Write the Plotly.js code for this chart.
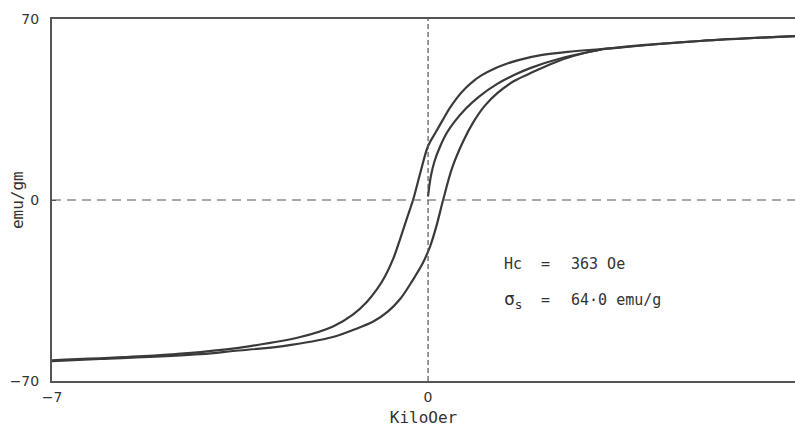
<!DOCTYPE html>
<html>
<head>
<meta charset="utf-8">
<script src="https://cdn.plot.ly/plotly-3.0.1.min.js"></script>
<style>html,body{margin:0;padding:0;background:#fff;}#chart{width:795px;height:428px;}</style>
</head>
<body>
<div id="chart"></div>
<script>
// Descending branch (from +H to -H), kOe / emu/g
const descH = [6.83, 5.06, 3.23, 2.6, 2.1, 1.7, 1.45, 1.2, 1.0, 0.85, 0.70, 0.55, 0.40, 0.28, 0.14, 0.00, -0.14, -0.28, -0.40, -0.52, -0.65, -0.80, -0.95, -1.14, -1.40, -1.77, -2.38, -3.31, -4.24, -5.5, -7.0];
const descM = [63.4, 61.5, 58.4, 57.3, 56.0, 54.2, 52.6, 50.5, 48.3, 46.1, 43.3, 39.8, 35.4, 31.2, 26.1, 20.9, 10.8, 0.0, -7.5, -15.1, -22.8, -29.5, -34.5, -39.4, -44.3, -48.9, -53.0, -56.5, -58.8, -60.6, -62.0];
// Ascending branch (from -H to +H)
const ascH = [-7.0, -6.1, -4.24, -3.63, -2.70, -1.77, -1.40, -1.02, -0.75, -0.52, -0.30, -0.10, 0.04, 0.15, 0.28, 0.45, 0.65, 0.84, 1.05, 1.30, 1.60, 1.90, 2.30, 2.70, 3.23, 5.06, 6.83];
const ascM = [-62.3, -61.5, -59.6, -58.4, -56.5, -53.0, -50.3, -47.0, -43.2, -38.3, -31.5, -24.5, -17.8, -10.5, 0.0, 12.5, 22.5, 30.0, 36.3, 41.5, 46.0, 49.0, 52.7, 55.7, 58.2, 61.5, 63.4];
// Initial (virgin) magnetisation curve
const virH = [0.00, 0.05, 0.12, 0.22, 0.35, 0.50, 0.70, 0.95, 1.28, 1.60, 1.90, 2.51, 3.23];
const virM = [1.5, 9.0, 15.0, 20.5, 26.0, 30.5, 35.3, 40.0, 44.8, 48.3, 51.0, 55.0, 58.2];
const xTicks = [-7, 0];
const yTicks = [-70, 0, 70];
const xTitle = "KiloOer";
const yTitle = "emu/gm";
const hcText = "363 Oe";
const sigmaText = "64·0 emu/g";

const lineStyle = {color: '#3a3a3a', width: 2.2, shape: 'spline', smoothing: 1};
const traces = [
  {x: descH, y: descM, mode: 'lines', line: lineStyle, hoverinfo: 'skip'},
  {x: ascH, y: ascM, mode: 'lines', line: lineStyle, hoverinfo: 'skip'},
  {x: virH, y: virM, mode: 'lines', line: lineStyle, hoverinfo: 'skip'}
];
const tickFont = {family: 'DejaVu Sans', size: 14, color: '#333'};
const annFont = {family: 'DejaVu Sans Mono', size: 15, color: '#333'};
const layout = {
  width: 795, height: 428,
  margin: {l: 52, r: 0, t: 19, b: 47},
  paper_bgcolor: '#fff', plot_bgcolor: '#fff',
  showlegend: false,
  xaxis: {
    range: [-7, 6.83], showgrid: false, zeroline: false,
    showline: true, mirror: true, linecolor: '#555', linewidth: 2,
    tickmode: 'array', tickvals: xTicks, ticktext: xTicks.map(v => v < 0 ? '\u2212' + Math.abs(v) : String(v)),
    ticks: '', tickfont: tickFont, ticklabelstandoff: 2,
    title: {text: xTitle, font: {family: 'DejaVu Sans Mono', size: 16, color: '#333'}, standoff: 8}
  },
  yaxis: {
    range: [-70, 70], showgrid: false, zeroline: false,
    showline: true, linecolor: '#555', linewidth: 2,
    tickmode: 'array', tickvals: yTicks, ticktext: yTicks.map(v => v < 0 ? '\u2212' + Math.abs(v) : String(v)),
    ticks: 'inside', ticklen: 4, tickcolor: '#555', tickfont: tickFont, ticklabelstandoff: 8
  },
  shapes: [
    {type: 'line', xref: 'x', yref: 'paper', x0: 0, x1: 0, y0: 0, y1: 1, line: {color: '#555', width: 1.2, dash: '5px,3px'}},
    {type: 'line', xref: 'paper', yref: 'y', x0: 0, x1: 1, y0: 0, y1: 0, line: {color: '#555', width: 1.2, dash: '9px,6px'}}
  ],
  annotations: [
    {x: -0.047, y: 0.5, xref: 'paper', yref: 'paper', xanchor: 'center', yanchor: 'middle', textangle: -90, text: yTitle, showarrow: false, font: {family: 'DejaVu Sans Mono', size: 16, color: '#333'}},
    {x: 1.38, y: -24.7, xref: 'x', yref: 'y', xanchor: 'left', yanchor: 'middle', text: 'Hc', showarrow: false, font: annFont},
    {x: 2.07, y: -24.7, xref: 'x', yref: 'y', xanchor: 'left', yanchor: 'middle', text: '=', showarrow: false, font: annFont},
    {x: 2.62, y: -24.7, xref: 'x', yref: 'y', xanchor: 'left', yanchor: 'middle', text: hcText, showarrow: false, font: annFont},
    {x: 1.38, y: -38.5, xref: 'x', yref: 'y', xanchor: 'left', yanchor: 'middle', text: 'σ<sub>s</sub>', showarrow: false, font: {family: 'DejaVu Sans Mono', size: 18, color: '#333'}},
    {x: 2.07, y: -38.5, xref: 'x', yref: 'y', xanchor: 'left', yanchor: 'middle', text: '=', showarrow: false, font: annFont},
    {x: 2.62, y: -38.5, xref: 'x', yref: 'y', xanchor: 'left', yanchor: 'middle', text: sigmaText, showarrow: false, font: annFont}
  ]
};
Plotly.newPlot('chart', traces, layout, {displayModeBar: false, staticPlot: true});
</script>
</body>
</html>
